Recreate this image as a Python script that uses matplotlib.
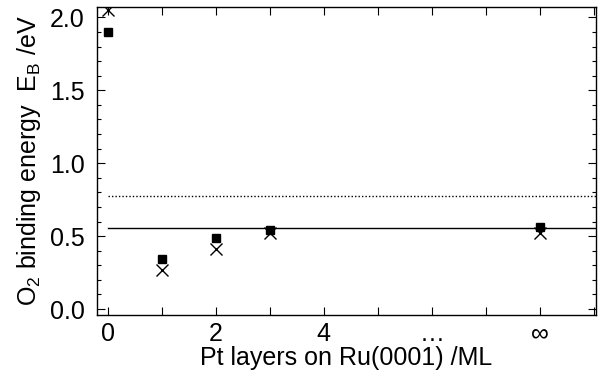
import matplotlib
matplotlib.use("Agg")
from matplotlib import pyplot as plt
from matplotlib.ticker import MultipleLocator, FixedLocator

plt.rcParams['font.family'] = ['Liberation Sans', 'DejaVu Sans']
plt.rcParams['mathtext.fontset'] = 'custom'
plt.rcParams['mathtext.rm'] = 'Liberation Sans'
plt.rcParams['mathtext.it'] = 'Liberation Sans'

# layer count (inf plotted at position 8)
layers = [0, 1, 2, 3, 8]
eb_square = [1.90, 0.34, 0.485, 0.545, 0.56]
eb_cross = [2.05, 0.27, 0.41, 0.52, 0.52]
solid_level = 0.555
dotted_level = 0.775
xtick_pos = [0, 2, 4, 6, 8]
xtick_labels = ["0", "2", "4", "\u2026", "\u221e"]

fig = plt.figure(figsize=(6.02, 3.78), dpi=100)
ax = fig.add_axes([0.161, 0.167, 0.829, 0.814])

ax.plot([0, 9.1], [solid_level, solid_level], color="black", lw=1.0)
ax.plot([0, 9.1], [dotted_level, dotted_level], color="black", lw=1.0, ls=(0, (1, 1.5)))
ax.plot(layers, eb_square, ls="none", marker="s", ms=6, color="black")
ax.plot(layers, eb_cross, ls="none", marker="x", ms=9, mew=1.0, color="black")

ax.set_xlim(-0.2, 9.04)
ax.set_ylim(-0.04, 2.07)
ax.set_xticks(xtick_pos, xtick_labels)
ax.xaxis.set_minor_locator(FixedLocator([1, 3, 5, 7, 9]))
ax.yaxis.set_major_locator(MultipleLocator(0.5))
ax.yaxis.set_minor_locator(MultipleLocator(0.1))
ax.yaxis.set_major_formatter(plt.FormatStrFormatter("%.1f"))

ax.tick_params(which="both", direction="in", top=True, right=True, labelsize=18)
ax.tick_params(which="major", length=6, width=0.8)
ax.tick_params(axis="y", which="major", pad=9)
ax.tick_params(axis="x", which="major", pad=5)
ax.tick_params(which="minor", length=3, width=0.8)
ax.tick_params(axis="x", which="minor", length=6)
for s in ax.spines.values():
    s.set_linewidth(1.0)

ax.set_xlabel("Pt layers on Ru(0001) /ML", fontsize=18, labelpad=0)
ax.set_ylabel("O$_2$ binding energy  E$_{\\mathrm{B}}$ /eV", fontsize=18, labelpad=5)

fig.savefig("out.png", dpi=100)
